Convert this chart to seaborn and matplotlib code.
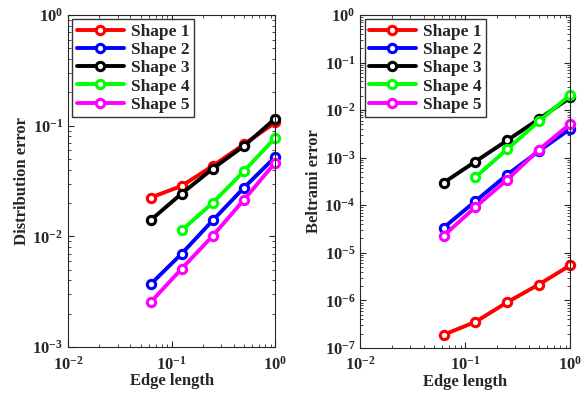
import numpy as np
import pandas as pd
import matplotlib
matplotlib.use("Agg")
import matplotlib.pyplot as plt
import seaborn as sns

edge = [0.0625, 0.125, 0.25, 0.5, 1.0]
names = ["Shape 1", "Shape 2", "Shape 3", "Shape 4", "Shape 5"]
colors = ["#ff0000", "#0000ff", "#000000", "#00ff00", "#ff00ff"]

dist_s1 = [0.0224, 0.0286, 0.0434, 0.068, 0.107]
dist_s2 = [0.00369, 0.00699, 0.014, 0.0276, 0.0523]
dist_s3 = [0.014, 0.0244, 0.041, 0.0658, 0.116]
dist_s4 = [np.nan, 0.01136, 0.0202, 0.039, 0.0778]
dist_s5 = [0.00254, 0.00511, 0.01016, 0.0215, 0.0465]

belt_s1 = [1.9e-7, 3.53e-7, 9.1e-7, 2.15e-6, 5.47e-6]
belt_s2 = [3.4e-5, 1.22e-4, 4.37e-4, 1.37e-3, 4.04e-3]
belt_s3 = [3.0e-4, 8.3e-4, 2.3e-3, 6.45e-3, 0.0184]
belt_s4 = [np.nan, 3.9e-4, 1.5e-3, 5.8e-3, 0.021]
belt_s5 = [2.3e-5, 9.2e-5, 3.43e-4, 1.46e-3, 5.15e-3]

sns.set_style("ticks")
plt.rcParams['font.family'] = ['Liberation Serif', 'DejaVu Serif']
plt.rcParams['font.weight'] = 'bold'
plt.rcParams['mathtext.fontset'] = 'custom'
plt.rcParams['mathtext.rm'] = 'Liberation Serif:bold'
plt.rcParams['mathtext.it'] = 'Liberation Serif:bold'
plt.rcParams['mathtext.bf'] = 'Liberation Serif:bold'
plt.rcParams['mathtext.default'] = 'bf'

def make_df(series):
    rows = []
    for n, vals in zip(names, series):
        for x, y in zip(edge, vals):
            if not np.isnan(y):
                rows.append({"edge": x, "err": y, "shape": n})
    return pd.DataFrame(rows)

fig = plt.figure(figsize=(5.82, 3.94), dpi=100)
ax1 = fig.add_axes([0.117, 0.119, 0.356, 0.843])
ax2 = fig.add_axes([0.619, 0.117, 0.361, 0.845])

def draw(ax, series, ylim, ylabel):
    df = make_df(series)
    sns.lineplot(data=df, x="edge", y="err", hue="shape", hue_order=names,
                 palette=colors, marker="o", markersize=6, markerfacecolor="white",
                 markeredgewidth=2.2, linewidth=2.8, ax=ax, estimator=None,
                 errorbar=None, sort=True)
    for ln, c in zip(ax.get_lines(), colors):
        ln.set_markeredgecolor(c)
        ln.set_clip_on(False)
    ax.set_xscale("log")
    ax.set_yscale("log")
    ax.set_xlim(1e-2, 1e0)
    ax.set_ylim(*ylim)
    ax.set_xlabel("Edge length", fontsize=12, fontweight="bold", labelpad=0)
    ax.set_ylabel(ylabel, fontsize=12, fontweight="bold", labelpad=2)
    ax.tick_params(which="both", direction="in", top=True, right=True, labelsize=12)
    ax.tick_params(axis="x", which="major", pad=6)
    ax.tick_params(which="major", length=4)
    ax.tick_params(which="minor", length=2)
    for s in ax.spines.values():
        s.set_linewidth(0.8)
    leg = ax.legend(loc="upper left", fontsize=12.5, frameon=True, fancybox=False,
                    edgecolor="black", handlelength=2.7, borderpad=0.25,
                    labelspacing=0.12, handletextpad=0.4, borderaxespad=0.25)
    leg.get_frame().set_linewidth(1.0)
    for h, c in zip(leg.get_lines(), colors):
        h.set_markerfacecolor("white")
        h.set_markeredgecolor(c)
        h.set_linewidth(2.8)

draw(ax1, [dist_s1, dist_s2, dist_s3, dist_s4, dist_s5], (1e-3, 1e0), "Distribution error")
draw(ax2, [belt_s1, belt_s2, belt_s3, belt_s4, belt_s5], (1e-7, 1e0), "Beltrami error")
ax2.set_yticks([1e-7, 1e-6, 1e-5, 1e-4, 1e-3, 1e-2, 1e-1, 1e0])

fig.savefig("out.png", dpi=100)
